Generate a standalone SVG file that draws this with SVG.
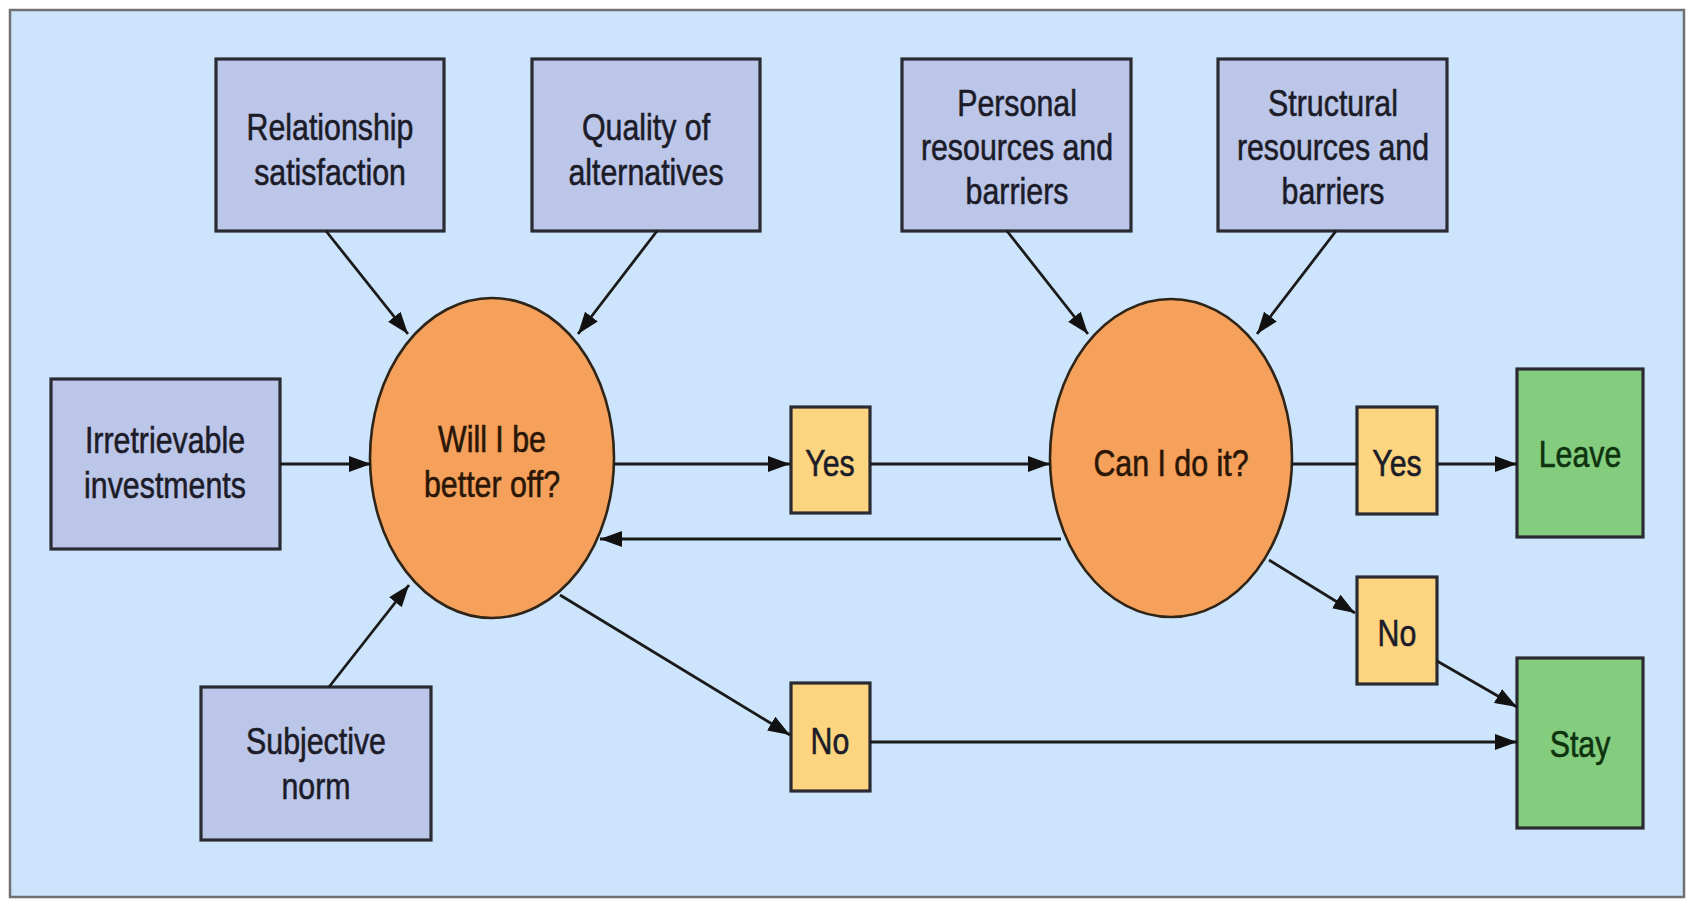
<svg xmlns="http://www.w3.org/2000/svg" width="1689" height="899" viewBox="0 0 1689 899">
<style>
.t{font-family:"Liberation Sans",Arial,sans-serif;font-size:37px;text-anchor:middle;stroke-width:0.6}
.pb{fill:#bcc6e9;stroke:#2a2a32;stroke-width:3.2}
.yb{fill:#fdd580;stroke:#2a2a32;stroke-width:3.2}
.gb{fill:#84cd7f;stroke:#2a2a32;stroke-width:3.2}
.el{fill:#f5a05b;stroke:#2e2418;stroke-width:2.6}
.c line{stroke:#1a1a1a;stroke-width:2.8}
.dk{fill:#1c1c28;stroke:#1c1c28}
.br{fill:#2a1606;stroke:#2a1606}
.gr{fill:#0e330e;stroke:#0e330e}
</style>
<defs>
<marker id="ah" markerUnits="userSpaceOnUse" markerWidth="22" markerHeight="16" refX="22" refY="8" orient="auto">
<path d="M0,0 L22,8 L0,16 z" fill="#111"/>
</marker>
</defs>
<rect x="0" y="0" width="1689" height="899" fill="#ffffff"/>
<rect x="10" y="10" width="1674" height="887" fill="#cde5fc" stroke="#707070" stroke-width="2.5"/>

<g id="n-relationship"><rect class="pb" x="216" y="59" width="228" height="172"/>
<text class="t dk" transform="translate(330,140) scale(0.82,1)">Relationship</text><text class="t dk" transform="translate(330,185) scale(0.82,1)">satisfaction</text></g>
<g id="n-quality"><rect class="pb" x="532" y="59" width="228" height="172"/>
<text class="t dk" transform="translate(646,140) scale(0.82,1)">Quality of</text><text class="t dk" transform="translate(646,185) scale(0.82,1)">alternatives</text></g>
<g id="n-personal"><rect class="pb" x="902" y="59" width="229" height="172"/>
<text class="t dk" transform="translate(1017,116) scale(0.82,1)">Personal</text><text class="t dk" transform="translate(1017,160) scale(0.82,1)">resources and</text><text class="t dk" transform="translate(1017,204) scale(0.82,1)">barriers</text></g>
<g id="n-structural"><rect class="pb" x="1218" y="59" width="229" height="172"/>
<text class="t dk" transform="translate(1333,116) scale(0.82,1)">Structural</text><text class="t dk" transform="translate(1333,160) scale(0.82,1)">resources and</text><text class="t dk" transform="translate(1333,204) scale(0.82,1)">barriers</text></g>
<g id="n-irretrievable"><rect class="pb" x="51" y="379" width="229" height="170"/>
<text class="t dk" transform="translate(165,453) scale(0.82,1)">Irretrievable</text><text class="t dk" transform="translate(165,498) scale(0.82,1)">investments</text></g>
<g id="n-subjective"><rect class="pb" x="201" y="687" width="230" height="153"/>
<text class="t dk" transform="translate(316,754) scale(0.82,1)">Subjective</text><text class="t dk" transform="translate(316,799) scale(0.82,1)">norm</text></g>

<g id="n-better"><ellipse class="el" cx="492" cy="458" rx="122" ry="160"/>
<text class="t br" transform="translate(492,452) scale(0.82,1)">Will I be</text><text class="t br" transform="translate(492,497) scale(0.82,1)">better off?</text></g>
<g id="n-cando"><ellipse class="el" cx="1171" cy="458" rx="121" ry="159"/>
<text class="t br" transform="translate(1171,476) scale(0.82,1)">Can I do it?</text></g>

<g id="n-yes1"><rect class="yb" x="791" y="407" width="79" height="106"/><text class="t dk" transform="translate(830,476) scale(0.82,1)">Yes</text></g>
<g id="n-no1"><rect class="yb" x="791" y="683" width="79" height="108"/><text class="t dk" transform="translate(830,754) scale(0.82,1)">No</text></g>
<g id="n-yes2"><rect class="yb" x="1357" y="407" width="80" height="107"/><text class="t dk" transform="translate(1397,476) scale(0.82,1)">Yes</text></g>
<g id="n-no2"><rect class="yb" x="1357" y="577" width="80" height="107"/><text class="t dk" transform="translate(1397,646) scale(0.82,1)">No</text></g>

<g id="n-leave"><rect class="gb" x="1517" y="369" width="126" height="168"/><text class="t gr" transform="translate(1580,467) scale(0.82,1)">Leave</text></g>
<g id="n-stay"><rect class="gb" x="1517" y="658" width="126" height="170"/><text class="t gr" transform="translate(1580,757) scale(0.82,1)">Stay</text></g>

<g id="connectors" class="c">
<line x1="326" y1="231" x2="408" y2="334" marker-end="url(#ah)"/>
<line x1="657" y1="231" x2="578" y2="334" marker-end="url(#ah)"/>
<line x1="280" y1="464" x2="371" y2="464" marker-end="url(#ah)"/>
<line x1="329" y1="687" x2="409" y2="585" marker-end="url(#ah)"/>
<line x1="614" y1="464" x2="790" y2="464" marker-end="url(#ah)"/>
<line x1="870" y1="464" x2="1050" y2="464" marker-end="url(#ah)"/>
<line x1="1061" y1="539" x2="600" y2="539" marker-end="url(#ah)"/>
<line x1="1007" y1="231" x2="1088" y2="334" marker-end="url(#ah)"/>
<line x1="1336" y1="231" x2="1257" y2="334" marker-end="url(#ah)"/>
<line x1="1292" y1="464" x2="1357" y2="464"/>
<line x1="1437" y1="464" x2="1517" y2="464" marker-end="url(#ah)"/>
<line x1="1269" y1="560" x2="1355" y2="613" marker-end="url(#ah)"/>
<line x1="1437" y1="661" x2="1517" y2="707" marker-end="url(#ah)"/>
<line x1="560" y1="595" x2="790" y2="735" marker-end="url(#ah)"/>
<line x1="870" y1="742" x2="1517" y2="742" marker-end="url(#ah)"/>
</g>
</svg>
